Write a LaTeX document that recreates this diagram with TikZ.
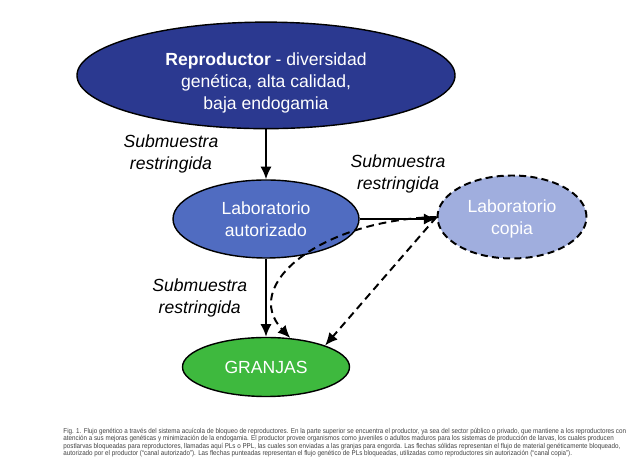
\documentclass[tikz,border=0pt]{standalone}
\usepackage{fontspec}
\setmainfont{Liberation Sans}
\newfontfamily\capfont[FakeStretch=0.89]{Liberation Sans}
\usetikzlibrary{shapes,arrows.meta,calc}

\definecolor{repblue}{HTML}{2B3990}
\definecolor{labblue}{HTML}{506CC1}
\definecolor{copblue}{HTML}{A0AEDE}
\definecolor{grjgreen}{HTML}{3EB93E}

\begin{document}
\begin{tikzpicture}[
    >={Latex[length=9pt,width=8pt]},
    mynode/.style = {ellipse, draw, line width=1pt, text=white, align=center, inner sep=0pt,
                     font=\fontsize{12.5}{15.5}\selectfont},
    mr/.style = {mynode, fill=repblue, minimum width=9.45cm, minimum height=2.375cm},
    ml/.style = {mynode, fill=labblue, minimum width=4.65cm, minimum height=1.95cm},
    mc/.style = {mynode, fill=copblue, line width=1.4pt, dash pattern=on 5pt off 3pt,
                 minimum width=3.725cm, minimum height=2.075cm},
    mg/.style = {mynode, fill=grjgreen, minimum width=4.175cm, minimum height=1.475cm},
    rel/.style = {font=\fontsize{12.5}{15.5}\selectfont\itshape, align=center},
    exist/.style = {->, line width=1.4pt},
    guess/.style = {->, line width=1.4pt, dash pattern=on 5.5pt off 3.5pt},
    captext/.style = {font=\capfont\fontsize{5}{5.3}\selectfont, text=black!75,
                      align=left, inner sep=0pt, anchor=north west}
    ]
    \useasboundingbox (0,0) rectangle (16.05,11.725);
    \node[mr] (rep) at (6.65,9.84) {\rule{0pt}{20pt}\textbf{Reproductor} - diversidad\\genética, alta calidad,\\baja endogamia};
    \node[ml] (lab) at (6.65,6.25) {Laboratorio\\autorizado};
    \node[mc] (copia) at (12.8,6.3) {\rule{0pt}{12pt}Laboratorio\\copia};
    \node[mg] (granjas) at (6.65,2.55) {GRANJAS};
    % flujo autorizado
    \path[exist] (rep) edge node[rel, left, xshift=-1.05cm]{Submuestra\\restringida} (lab);
    \path[exist] (lab.east) edge node[rel, above, yshift=0.5cm]{Submuestra\\restringida} (lab.east -| copia.west);
    \path[exist] (lab) edge node[rel, left, xshift=-0.33cm]{Submuestra\\restringida} (granjas);
    % canal copia
    \draw[guess] (copia.west) .. controls +(-2.9cm,-0.075cm) and +(-1.25cm,1.325cm) .. (granjas.50);
    \draw[guess] (copia.west) -- (granjas.20);
    \node[captext] (cap) at (1.58,1.03) {Fig. 1. Flujo genético a través del sistema acuícola de bloqueo de reproductores. En la parte superior se encuentra el productor, ya sea del sector público o privado, que mantiene a los reproductores con\\
    atención a sus mejoras genéticas y minimización de la endogamia. El productor provee organismos como juveniles o adultos maduros para los sistemas de producción de larvas, los cuales producen\\
    postlarvas bloqueadas para reproductores, llamadas aquí PLs o PPL, las cuales son enviadas a las granjas para engorda. Las flechas sólidas representan el flujo de material genéticamente bloqueado,\\
    autorizado por el productor (“canal autorizado”). Las flechas punteadas representan el flujo genético de PLs bloqueadas, utilizadas como reproductores sin autorización (“canal copia”).};
\end{tikzpicture}
\end{document}
